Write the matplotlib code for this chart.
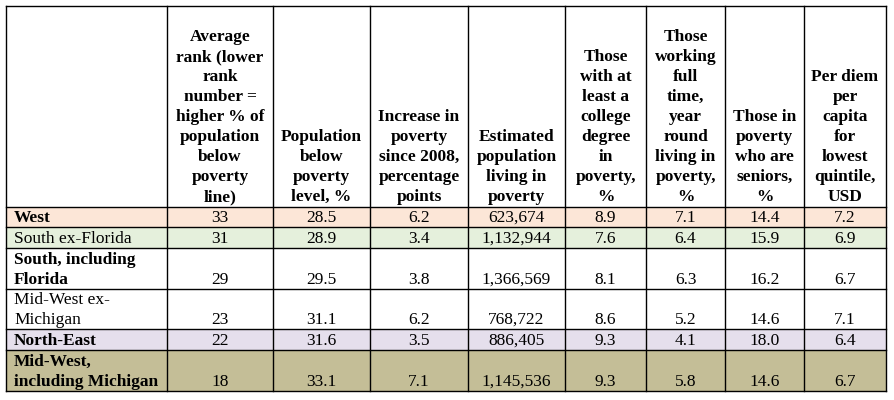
import matplotlib.pyplot as plt

plt.rcParams['font.family'] = ['Liberation Serif', 'DejaVu Serif']

headers = [
    "",
    "Average\nrank (lower\nrank\nnumber =\nhigher % of\npopulation\nbelow\npoverty\nline)",
    "Population\nbelow\npoverty\nlevel, %",
    "Increase in\npoverty\nsince 2008,\npercentage\npoints",
    "Estimated\npopulation\nliving in\npoverty",
    "Those\nwith at\nleast a\ncollege\ndegree\nin\npoverty,\n%",
    "Those\nworking\nfull\ntime,\nyear\nround\nliving in\npoverty,\n%",
    "Those in\npoverty\nwho are\nseniors,\n%",
    "Per diem\nper\ncapita\nfor\nlowest\nquintile,\nUSD",
]

regions = ["West", "South ex-Florida", "South, including\nFlorida",
           "Mid-West ex-\nMichigan", "North-East", "Mid-West,\nincluding Michigan"]
region_bold = [True, False, True, False, True, True]
row_colors = ["#FCE6D7", "#E5F0DC", "white", "white", "#E5DFEC", "#C4BE97"]

avg_rank = ["33", "31", "29", "23", "22", "18"]
pop_below = ["28.5", "28.9", "29.5", "31.1", "31.6", "33.1"]
increase = ["6.2", "3.4", "3.8", "6.2", "3.5", "7.1"]
est_pop = ["623,674", "1,132,944", "1,366,569", "768,722", "886,405", "1,145,536"]
college = ["8.9", "7.6", "8.1", "8.6", "9.3", "9.3"]
fulltime = ["7.1", "6.4", "6.3", "5.2", "4.1", "5.8"]
seniors = ["14.4", "15.9", "16.2", "14.6", "18.0", "14.6"]
per_diem = ["7.2", "6.9", "6.7", "7.1", "6.4", "6.7"]

columns = [avg_rank, pop_below, increase, est_pop, college, fulltime, seniors, per_diem]

# grid geometry (pixels)
col_x = [6, 167, 273, 370, 468, 565, 646, 725, 804, 886]
row_y = [6, 207, 227, 248, 289, 329, 350, 391]
fs = 12.5
line_h = 20

fig = plt.figure(figsize=(8.94, 4.0), dpi=100)
ax = fig.add_axes([0, 0, 1, 1])
ax.set_xlim(0, 894)
ax.set_ylim(400, 0)
ax.axis('off')

# row fills
for i, c in enumerate(row_colors):
    ax.fill_between([col_x[0], col_x[-1]], row_y[i + 1], row_y[i + 2], color=c, lw=0)

# grid lines
for x in col_x:
    ax.plot([x, x], [row_y[0], row_y[-1]], color='black', lw=1.0)
for y in row_y:
    ax.plot([col_x[0], col_x[-1]], [y, y], color='black', lw=1.0)

# header
for j, h in enumerate(headers):
    if not h:
        continue
    lines = h.split("\n")
    cx = (col_x[j] + col_x[j + 1]) / 2
    for k, ln in enumerate(reversed(lines)):
        ax.text(cx, row_y[1] - 6 - k * line_h, ln, ha='center', va='baseline',
                fontsize=fs, fontweight='bold')

# body
for i, reg in enumerate(regions):
    base = row_y[i + 2] - 5
    lines = reg.split("\n")
    for k, ln in enumerate(reversed(lines)):
        ax.text(14, base - k * line_h, ln, ha='left', va='baseline', fontsize=fs,
                fontweight='bold' if region_bold[i] else 'normal')
    for j, col in enumerate(columns):
        cx = (col_x[j + 1] + col_x[j + 2]) / 2
        ax.text(cx, base, col[i], ha='center', va='baseline', fontsize=fs)

fig.savefig("out.png", dpi=100)
